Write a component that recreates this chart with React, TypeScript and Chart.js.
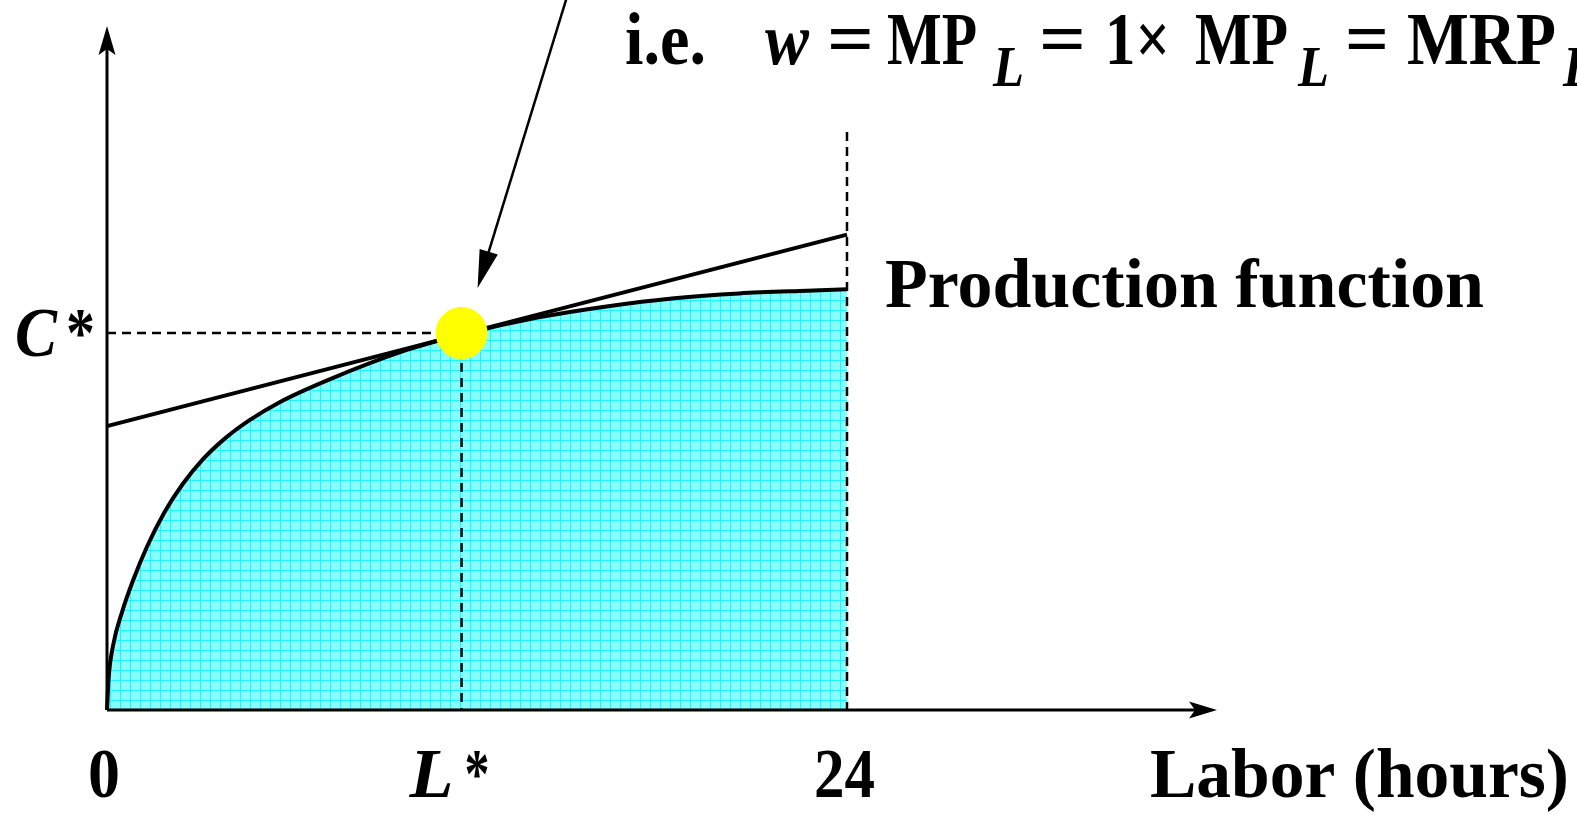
import React, { useEffect, useRef } from "react";
import { Chart, registerables } from "chart.js";

Chart.register(...registerables);

// Production function (hours of labor -> consumption/output)
const hours = [0, 0.05, 0.2, 0.5, 0.85, 1.3, 1.85, 2.45, 3.1, 3.8, 4.6, 5.6, 7.2, 9.7, 11.5, 14.0, 16.2, 18.4, 20.5, 22.7, 24];
const output = [0, 4.5, 9.5, 14.5, 19.0, 23.9, 28.8, 33.0, 36.6, 39.6, 42.3, 45.0, 48.3, 52.6, 54.9, 57.4, 59.0, 60.2, 60.9, 61.3, 61.5];

// Tangent (wage) line
const tangentX = [0, 24];
const tangentY = [41.5, 69.5];

// Optimum
const Lstar = 11.5;
const Cstar = 55.1;
const endowment = 24;
const endowmentTop = 84.5;

// Axis ranges
const xMax = 36;
const yMax = 100;

// Tick labels
const xTickValues = [0, Lstar, endowment];

const FONT = '"Liberation Serif", "Times New Roman", serif';

function drawFit(ctx: CanvasRenderingContext2D, text: string, font: string, x: number, baseline: number, width: number) {
  ctx.save();
  ctx.font = font;
  ctx.textBaseline = "alphabetic";
  ctx.textAlign = "left";
  const m = ctx.measureText(text).width;
  const sx = m > 0 ? width / m : 1;
  ctx.translate(x, baseline);
  ctx.scale(sx, 1);
  ctx.fillStyle = "#000";
  ctx.fillText(text, 0, 0);
  ctx.restore();
}

function stealthArrow(ctx: CanvasRenderingContext2D, tipX: number, tipY: number, dx: number, dy: number, len: number, half: number, notch: number) {
  const n = Math.hypot(dx, dy);
  const ux = dx / n, uy = dy / n;
  const px = -uy, py = ux;
  const bx = tipX - ux * len, by = tipY - uy * len;
  const nx = tipX - ux * (len - notch), ny = tipY - uy * (len - notch);
  ctx.beginPath();
  ctx.moveTo(tipX, tipY);
  ctx.lineTo(bx + px * half, by + py * half);
  ctx.lineTo(nx, ny);
  ctx.lineTo(bx - px * half, by - py * half);
  ctx.closePath();
  ctx.fill();
}

export default function App() {
  const ref = useRef<HTMLCanvasElement | null>(null);

  useEffect(() => {
    const canvas = ref.current;
    if (!canvas) return;

    const tile = document.createElement("canvas");
    tile.width = 10;
    tile.height = 10;
    const tctx = tile.getContext("2d")!;
    tctx.fillStyle = "#88ffff";
    tctx.fillRect(0, 0, 10, 10);
    tctx.fillStyle = "#22f4ff";
    tctx.fillRect(0, 0, 10, 1);
    tctx.fillRect(0, 0, 1, 10);
    const pattern = canvas.getContext("2d")!.createPattern(tile, "repeat")!;

    const curve = hours.map((h, i) => ({ x: h, y: output[i] }));
    const tangent = tangentX.map((x, i) => ({ x, y: tangentY[i] }));

    const overlay = {
      id: "overlay",
      afterDatasetsDraw(chart: any) {
        const ctx: CanvasRenderingContext2D = chart.ctx;
        const xs = chart.scales.x;
        const ys = chart.scales.y;
        const x0 = xs.getPixelForValue(0);
        const y0 = ys.getPixelForValue(0);
        const xEnd = xs.getPixelForValue(xMax);
        const yEnd = ys.getPixelForValue(yMax);
        ctx.save();
        ctx.strokeStyle = "#000";
        ctx.fillStyle = "#000";
        ctx.lineWidth = 3;
        ctx.beginPath();
        ctx.moveTo(x0, y0);
        ctx.lineTo(x0, yEnd + 20);
        ctx.moveTo(x0, y0);
        ctx.lineTo(xEnd - 20, y0);
        ctx.stroke();
        stealthArrow(ctx, x0, yEnd, 0, -1, 29, 8.5, 6);
        stealthArrow(ctx, xEnd, y0, 1, 0, 28, 8.5, 6);

        // annotation arrow pointing at the optimum
        const tipX = xs.getPixelForValue(Lstar) + 16;
        const tipY = ys.getPixelForValue(Cstar) - 45;
        const startX = tipX + 89;
        const startY = tipY - 290;
        const dx = tipX - startX, dy = tipY - startY;
        const n = Math.hypot(dx, dy);
        ctx.lineWidth = 2.5;
        ctx.beginPath();
        ctx.moveTo(startX, startY);
        ctx.lineTo(tipX - (dx / n) * 30, tipY - (dy / n) * 30);
        ctx.stroke();
        stealthArrow(ctx, tipX, tipY, dx, dy, 38, 9.5, 0);

        // tick labels
        const big = `bold 70px ${FONT}`;
        const bigI = `italic bold 70px ${FONT}`;
        const base = 797;
        const p0 = xs.getPixelForValue(xTickValues[0]);
        const pL = xs.getPixelForValue(xTickValues[1]);
        const p24 = xs.getPixelForValue(xTickValues[2]);
        drawFit(ctx, "0", big, p0 - 19, base, 32);
        drawFit(ctx, "L", bigI, pL - 52, base, 44);
        drawFit(ctx, "*", big, pL + 3, base, 25);
        drawFit(ctx, "24", big, p24 - 33, base, 61);
        drawFit(ctx, "Labor (hours)", big, 1150, base, 419);

        const pc = ys.getPixelForValue(Cstar);
        drawFit(ctx, "C", bigI, 15, pc + 23, 42);
        drawFit(ctx, "*", big, 66, pc + 23, 29);

        drawFit(ctx, "Production function", `bold 70px ${FONT}`, 885, ys.getPixelForValue(output[output.length - 1]) + 18, 599);

        // equation at top
        const eq = `bold 74px ${FONT}`;
        const eqI = `italic bold 74px ${FONT}`;
        const sub = `italic bold 58px ${FONT}`;
        const eb = 64;
        const sb = 86;
        drawFit(ctx, "i.e.", eq, 625, eb, 81);
        drawFit(ctx, "w", eqI, 765, eb, 44);
        drawFit(ctx, "=", eq, 827, eb, 47);
        drawFit(ctx, "MP", eq, 887, eb, 90);
        drawFit(ctx, "L", sub, 993, sb, 31);
        drawFit(ctx, "=", eq, 1039, eb, 47);
        drawFit(ctx, "1×", eq, 1105, eb, 65);
        drawFit(ctx, "MP", eq, 1195, eb, 93);
        drawFit(ctx, "L", sub, 1298, sb, 31);
        drawFit(ctx, "=", eq, 1345, eb, 44);
        drawFit(ctx, "MRP", eq, 1407, eb, 149);
        drawFit(ctx, "L", sub, 1563, sb, 31);
        ctx.restore();
      },
    };

    const dash = [9, 6];
    const chart = new Chart(canvas, {
      type: "scatter",
      data: {
        datasets: [
          {
            label: "optimum",
            data: [{ x: Lstar, y: Cstar }],
            pointRadius: 26,
            pointBackgroundColor: "#ffff00",
            pointBorderWidth: 0,
            showLine: false,
            clip: false,
          } as any,
          {
            label: "C* guide",
            data: [{ x: 0, y: Cstar }, { x: Lstar, y: Cstar }],
            showLine: true,
            borderColor: "#000",
            borderWidth: 2.5,
            borderDash: dash,
            pointRadius: 0,
            clip: false,
          },
          {
            label: "L* guide",
            data: [{ x: Lstar, y: Cstar }, { x: Lstar, y: 0 }],
            showLine: true,
            borderColor: "#000",
            borderWidth: 2.5,
            borderDash: dash,
            pointRadius: 0,
            clip: false,
          },
          {
            label: "24 guide",
            data: [{ x: endowment, y: endowmentTop }, { x: endowment, y: 0 }],
            showLine: true,
            borderColor: "#000",
            borderWidth: 2.5,
            borderDash: dash,
            pointRadius: 0,
            clip: false,
          },
          {
            label: "tangent",
            data: tangent,
            showLine: true,
            borderColor: "#000",
            borderWidth: 4,
            pointRadius: 0,
            clip: false,
          },
          {
            label: "Production function",
            data: curve,
            showLine: true,
            borderColor: "#000",
            borderWidth: 4,
            pointRadius: 0,
            cubicInterpolationMode: "monotone",
            fill: "origin",
            backgroundColor: pattern as any,
            clip: false,
          } as any,
        ],
      },
      options: {
        responsive: false,
        animation: false,
        layout: { padding: { left: 107, right: 1577 - 1217, top: 24, bottom: 814 - 710 } },
        scales: {
          x: { type: "linear", min: 0, max: xMax, display: false },
          y: { type: "linear", min: 0, max: yMax, display: false },
        },
        plugins: { legend: { display: false }, tooltip: { enabled: false } },
        events: [],
      },
      plugins: [overlay],
    });
    return () => chart.destroy();
  }, []);

  return (
    <div style={{ position: "fixed", left: 0, top: 0, width: 1577, height: 814, background: "#fff" }}>
      <canvas ref={ref} width={1577} height={814} style={{ display: "block" }} />
    </div>
  );
}
